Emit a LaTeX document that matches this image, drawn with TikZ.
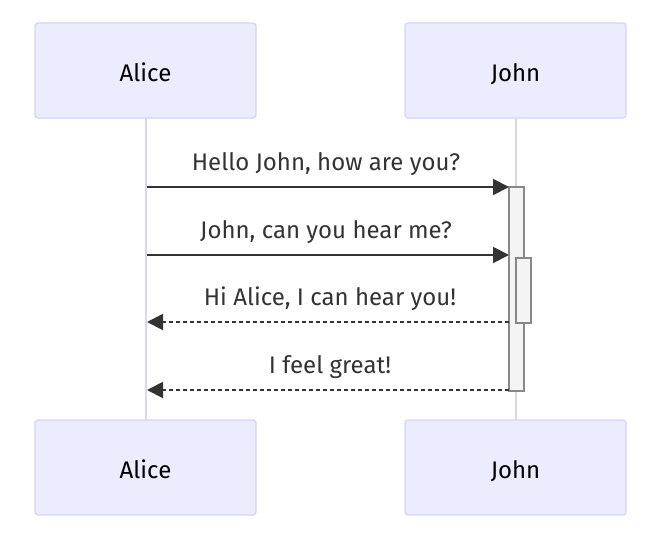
\documentclass[tikz,border=0pt]{standalone}
\usepackage{fontspec}
\setmainfont{Fira Sans}
\usetikzlibrary{arrows.meta}
\definecolor{actorfill}{HTML}{ECECFF}
\definecolor{actorline}{HTML}{D9D1F5}
\definecolor{lifeline}{HTML}{DCD3F7}
\definecolor{msgcol}{HTML}{333333}
\definecolor{actfill}{HTML}{F4F4F4}
\definecolor{actline}{HTML}{888888}
\tikzset{
  actor/.style={draw=actorline, fill=actorfill, line width=1.2pt, rounded corners=3pt,
    minimum width=221pt, minimum height=95pt, inner sep=0pt, text height=21pt, text depth=0pt,
    font=\fontsize{24}{28}\selectfont},
  lifelinestyle/.style={draw=lifeline, line width=2pt},
  actbox/.style={draw=actline, fill=actfill, line width=1.2pt},
  msg/.style={draw=msgcol, line width=2pt, -{Triangle[length=16pt,width=16pt]}},
  msgdash/.style={msg, dash pattern=on 4pt off 3pt},
  msglabel/.style={font=\fontsize{24}{28}\selectfont, text=msgcol, inner sep=0pt}
}
\begin{document}
\begin{tikzpicture}[x=1pt,y=-1pt]
\useasboundingbox (0,0) rectangle (649,539);
% lifelines
\coordinate (aTop) at (146,118);
\coordinate (aBot) at (146,420);
\coordinate (jTop) at (516,118);
\coordinate (jBot) at (516,420);
\draw[lifelinestyle] (aTop) -- (aBot);
\draw[lifelinestyle] (jTop) -- (jBot);
% actors
\node[actor] (aliceT) at (145.5,70.5) {Alice};
\node[actor] (johnT) at (515.5,70.5) {John};
\node[actor] (aliceB) at (145.5,467.5) {Alice};
\node[actor] (johnB) at (515.5,467.5) {John};
% activations
\draw[actbox] (509,187) rectangle (524,391);
\draw[actbox] (516,258) rectangle (531,323);
% message endpoints
\coordinate (m1s) at (147,187); \coordinate (m1e) at (509,187);
\coordinate (m2s) at (147,255); \coordinate (m2e) at (509,255);
\coordinate (m3s) at (509,322); \coordinate (m3e) at (147,322);
\coordinate (m4s) at (509,390); \coordinate (m4e) at (147,390);
\draw[msg] (m1s) -- (m1e);
\draw[msg] (m2s) -- (m2e);
\draw[msgdash] (m3s) -- (m3e);
\draw[msgdash] (m4s) -- (m4e);
% labels
\node[msglabel] (l1) at (326,164) {Hello John, how are you?};
\node[msglabel] (l2) at (326,232) {John, can you hear me?};
\node[msglabel] (l3) at (330,299) {Hi Alice, I can hear you!};
\node[msglabel] (l4) at (330,367) {I feel great!};
\end{tikzpicture}
\end{document}
